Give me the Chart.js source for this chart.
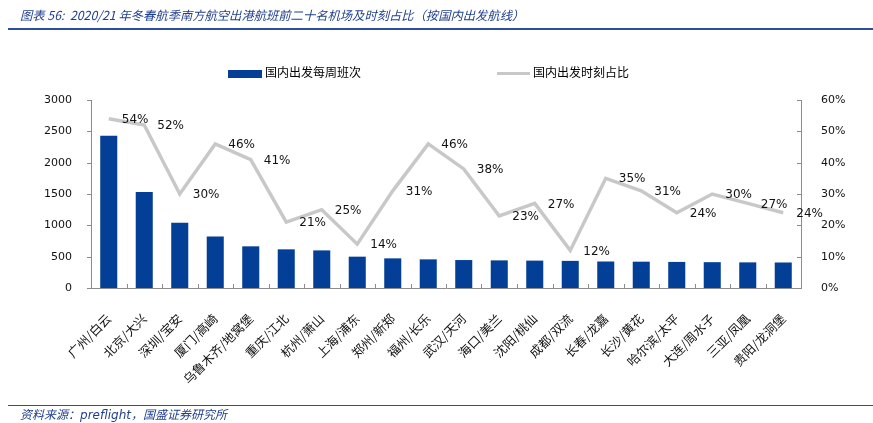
<!DOCTYPE html>
<html>
<head>
<meta charset="utf-8">
<script src="https://cdn.jsdelivr.net/npm/chart.js@4"></script>
<style>
  html, body { margin: 0; padding: 0; background: #fff; }
  #wrap { position: relative; width: 873px; height: 423px; overflow: hidden; }
  #chartBox { position: absolute; left: 0; top: 0; width: 873px; height: 423px; }
  .title { position: absolute; left: 20px; top: 6px; font: italic 12.3px "Noto Sans CJK SC", sans-serif; color: #1f3f8f; white-space: nowrap; }
  .rule { position: absolute; left: 8px; right: 0; background: #2b4f9e; }
  .foot { position: absolute; left: 20px; top: 405px; font: italic 12px "Noto Sans CJK SC", sans-serif; color: #1f3f8f; white-space: nowrap; }
  .foot b { font-family: "DejaVu Sans", sans-serif; font-weight: normal; }
  .legend { position: absolute; top: 63px; font: 12px "Noto Sans CJK SC", sans-serif; color: #000; white-space: nowrap; }
  .legend i { display: inline-block; vertical-align: middle; margin-right: 3px; }
</style>
</head>
<body>
<div id="wrap">
  <div id="chartBox"><canvas id="c"></canvas></div>
  <div class="title">图表 56:&nbsp; 2020/21 年冬春航季南方航空出港航班前二十名机场及时刻占比（按国内出发航线）</div>
  <div class="rule" style="top:28px;height:2px"></div>
  <div class="legend" style="left:228px"><i style="width:34px;height:8px;background:#033f96"></i>国内出发每周班次</div>
  <div class="legend" style="left:497px"><i style="width:33px;height:3px;background:#c8c8c8"></i>国内出发时刻占比</div>
  <div class="rule" style="top:405px;height:1px"></div>
  <div class="foot">资料来源：<b>preflight</b>，国盛证券研究所</div>
</div>
<script>
// ---- data ----
const airports = ['广州/白云', '北京/大兴', '深圳/宝安', '厦门/高崎', '乌鲁木齐/地窝堡', '重庆/江北', '杭州/萧山',
  '上海/浦东', '郑州/新郑', '福州/长乐', '武汉/天河', '海口/美兰', '沈阳/桃仙', '成都/双流', '长春/龙嘉',
  '长沙/黄花', '哈尔滨/太平', '大连/周水子', '三亚/凤凰', '贵阳/龙洞堡'];
const weeklyFlights = [2430, 1530, 1040, 820, 665, 617, 600, 500, 473, 457,
  446, 441, 437, 433, 423, 420, 416, 412, 409, 407];
const slotShare = [54, 52, 30, 46, 41, 21, 25, 14, 31, 46,
  38, 23, 27, 12, 35, 31, 24, 30, 27, 24];
const leftTicks = [0, 500, 1000, 1500, 2000, 2500, 3000];
const rightTicks = [0, 10, 20, 30, 40, 50, 60];

const AXIS = '#8c8c8c';
const numFont = { family: 'DejaVu Sans', size: 11 };

// draws the % labels beside the line points and the small tick marks
const extras = {
  id: 'extras',
  afterDatasetsDraw(chart) {
    const ctx = chart.ctx;
    const area = chart.chartArea;
    const x = chart.scales.x, y = chart.scales.y, y1 = chart.scales.y1;
    ctx.save();
    ctx.strokeStyle = AXIS;
    ctx.lineWidth = 1;
    ctx.beginPath();
    const step = (x.getPixelForValue(1) - x.getPixelForValue(0));
    for (let i = 0; i <= airports.length; i++) {
      const px = Math.round(x.getPixelForValue(i) - step / 2) + 0.5;
      ctx.moveTo(px, area.bottom); ctx.lineTo(px, area.bottom - 4);
    }
    leftTicks.forEach(v => {
      const py = Math.round(y.getPixelForValue(v)) + 0.5;
      ctx.moveTo(area.left, py); ctx.lineTo(area.left - 4, py);
    });
    rightTicks.forEach(v => {
      const py = Math.round(y1.getPixelForValue(v)) + 0.5;
      ctx.moveTo(area.right, py); ctx.lineTo(area.right - 4, py);
    });
    ctx.stroke();

    const meta = chart.getDatasetMeta(0);
    ctx.fillStyle = '#111';
    ctx.font = '12px "DejaVu Sans"';
    ctx.textAlign = 'left';
    ctx.textBaseline = 'middle';
    meta.data.forEach((pt, i) => {
      ctx.fillText(slotShare[i] + '%', pt.x + 13, pt.y + 1);
    });
    ctx.restore();
  }
};

new Chart(document.getElementById('c'), {
  data: {
    labels: airports,
    datasets: [
      { type: 'line', label: '国内出发时刻占比', data: slotShare, yAxisID: 'y1', borderColor: '#c8c8c8',
        borderWidth: 3.5, pointRadius: 0, tension: 0, order: 0 },
      { type: 'bar', label: '国内出发每周班次', data: weeklyFlights, yAxisID: 'y', backgroundColor: '#033f96',
        barPercentage: 0.48, categoryPercentage: 1, order: 1 }
    ]
  },
  options: {
    responsive: true,
    maintainAspectRatio: false,
    animation: false,
    layout: { padding: { top: 100, left: 0, right: 0, bottom: 0 } },
    plugins: { legend: { display: false }, tooltip: { enabled: false } },
    scales: {
      x: {
        grid: { display: false },
        border: { color: AXIS },
        ticks: { color: '#111', autoSkip: false, minRotation: 45, maxRotation: 45, padding: 15,
          font: { family: 'Noto Sans CJK SC', size: 12.5 } },
        afterFit: s => { s.height = 135; }
      },
      y: {
        position: 'left', min: 0, max: 3000,
        afterBuildTicks: s => { s.ticks = leftTicks.map(v => ({ value: v })); },
        grid: { display: false },
        border: { color: AXIS },
        ticks: { color: '#111', padding: 11, font: numFont, callback: v => String(v) },
        afterFit: s => { s.width = 91; }
      },
      y1: {
        position: 'right', min: 0, max: 60,
        afterBuildTicks: s => { s.ticks = rightTicks.map(v => ({ value: v })); },
        grid: { display: false },
        border: { color: AXIS },
        ticks: { color: '#111', padding: 12, font: numFont, callback: v => v + '%' },
        afterFit: s => { s.width = 72; }
      }
    }
  },
  plugins: [extras]
});
</script>
</body>
</html>
